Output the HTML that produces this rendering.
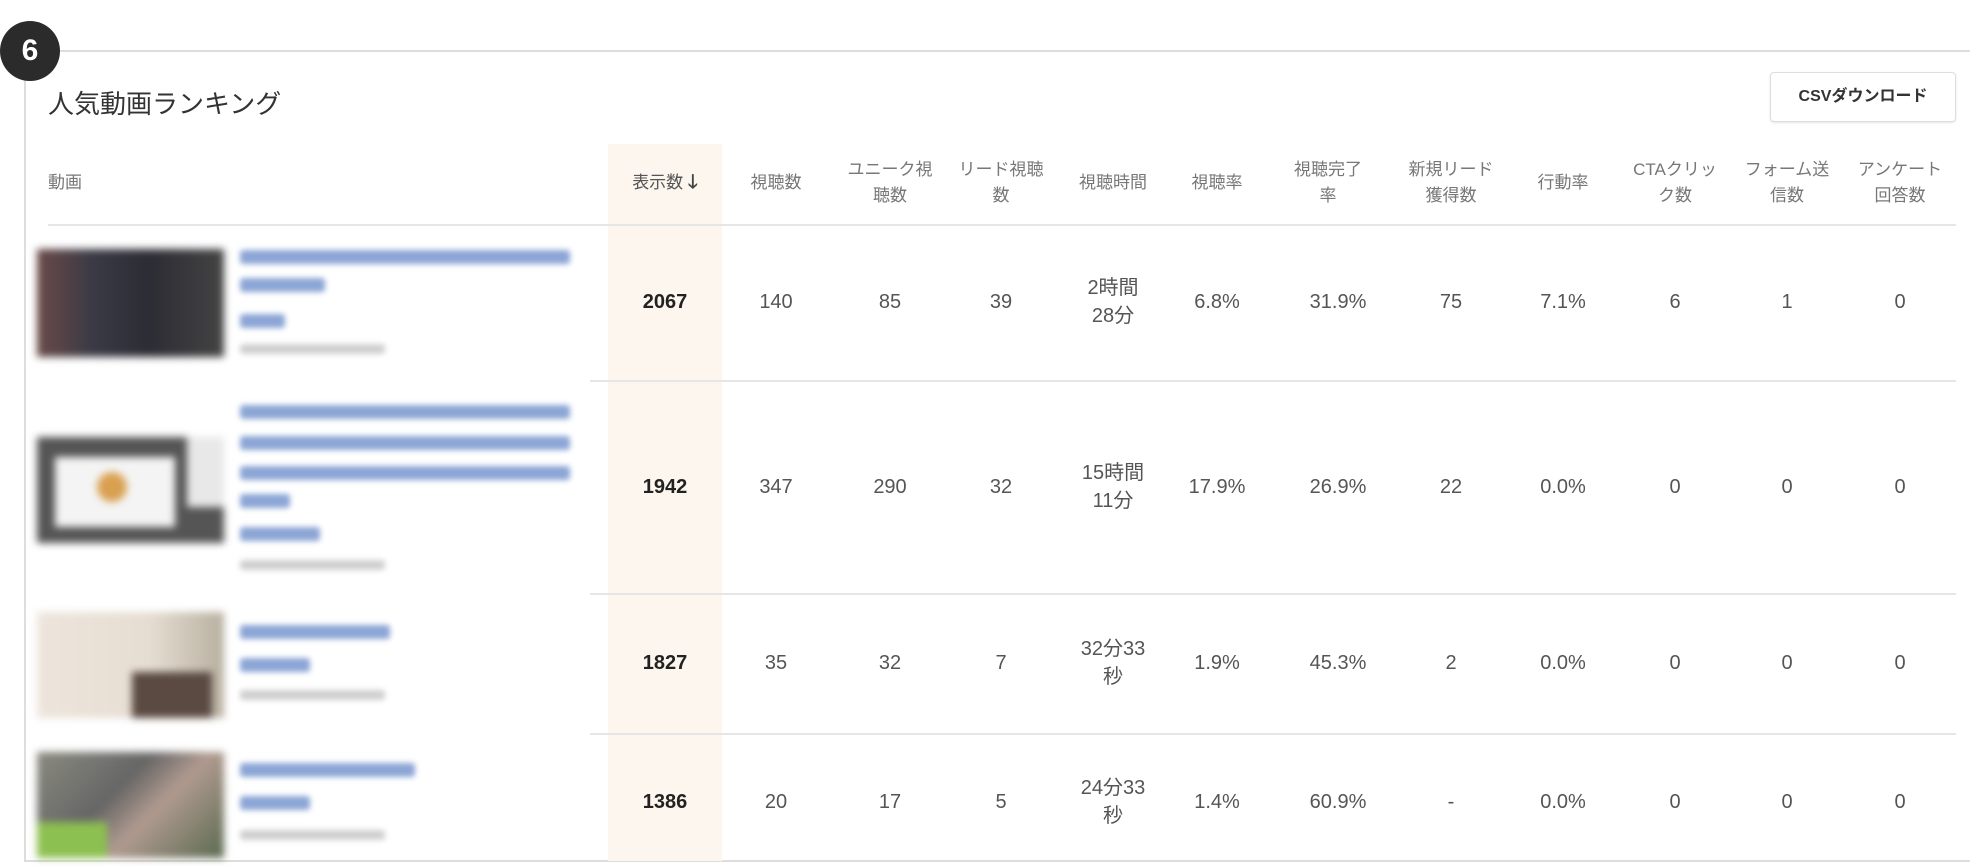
<!DOCTYPE html>
<html><head><meta charset="utf-8"><style>
*{margin:0;padding:0;box-sizing:border-box}
body{width:1970px;height:866px;background:#fff;position:relative;overflow:hidden;font-family:"Liberation Sans","Noto Sans CJK JP",sans-serif;color:#444}
.a{position:absolute}
.c{position:absolute;text-align:center;transform:translateX(-50%);white-space:nowrap}
.h{font-size:17px;color:#777;line-height:26px}
.v{font-size:20px;color:#555;line-height:28px}
.blur{filter:blur(4px)}
.ln{position:absolute;height:2px;background:#e6e6e6}
.bl{position:absolute;background:#5b7fc4;height:14px;border-radius:3px;filter:blur(3px);opacity:.7}
.gr{position:absolute;background:#bbb;height:10px;border-radius:3px;filter:blur(3px);opacity:.7}
</style></head><body>
<div class="a" style="left:25px;top:50px;width:1945px;height:2px;background:#ddd"></div>
<div class="a" style="left:24px;top:50px;width:2px;height:812px;background:#ddd"></div>
<div class="a" style="left:24px;top:860px;width:1946px;height:2px;background:#ddd"></div>
<div class="a" style="left:0;top:21px;width:60px;height:60px;border-radius:50%;background:#2b2b2b;color:#fff;font-weight:bold;font-size:30px;line-height:60px;text-align:center">6</div>
<div class="a" style="left:48px;top:84px;font-size:26px;color:#333">人気動画ランキング</div>
<div class="a" style="left:1770px;top:72px;width:186px;height:50px;border:1px solid #ddd;border-radius:4px;box-shadow:0 1px 2px rgba(0,0,0,.1);font-size:16px;font-weight:bold;color:#333;text-align:center;line-height:48px">CSVダウンロード</div>
<div class="a" style="left:608px;top:144px;width:114px;height:717px;background:#fcf6ee"></div>
<div class="ln" style="left:48px;top:224px;width:1908px"></div>
<div class="ln" style="left:590px;top:380px;width:1366px"></div>
<div class="ln" style="left:590px;top:593px;width:1366px"></div>
<div class="ln" style="left:590px;top:733px;width:1366px"></div>
<div class="a h" style="left:48px;top:170px">動画</div>
<div class="c h" style="left:665px;top:170px;color:#555">表示数 <b style="color:#444;font-size:19px">🡓</b></div>
<div class="c h" style="left:776px;top:170px">視聴数</div>
<div class="c h" style="left:890px;top:157px">ユニーク視<br>聴数</div>
<div class="c h" style="left:1001px;top:157px">リード視聴<br>数</div>
<div class="c h" style="left:1113px;top:170px">視聴時間</div>
<div class="c h" style="left:1217px;top:170px">視聴率</div>
<div class="c h" style="left:1328px;top:157px">視聴完了<br>率</div>
<div class="c h" style="left:1451px;top:157px">新規リード<br>獲得数</div>
<div class="c h" style="left:1563px;top:170px">行動率</div>
<div class="c h" style="left:1675px;top:157px">CTAクリッ<br>ク数</div>
<div class="c h" style="left:1787px;top:157px">フォーム送<br>信数</div>
<div class="c h" style="left:1900px;top:157px">アンケート<br>回答数</div>

<div class="a blur" style="left:37px;top:249px;width:187px;height:108px;background:linear-gradient(90deg,#6a4a48,#3a3a45 30%,#2c2c34 60%,#444 100%)"></div>
<div class="a blur" style="left:37px;top:437px;width:187px;height:106px;background:#555"><div class="a" style="left:18px;top:20px;width:120px;height:70px;background:#f4f4f4"></div><div class="a" style="left:60px;top:35px;width:30px;height:30px;border-radius:50%;background:#d9a050"></div><div class="a" style="left:150px;top:0;width:37px;height:70px;background:#e8e8e8"></div></div>
<div class="a blur" style="left:37px;top:612px;width:187px;height:106px;background:linear-gradient(90deg,#ede5dc,#e6ddd2 60%,#b8b0a0)"><div class="a" style="left:95px;top:60px;width:80px;height:46px;background:#5a4a42"></div></div>
<div class="a blur" style="left:37px;top:752px;width:187px;height:106px;background:linear-gradient(135deg,#8a8a80,#666 40%,#b09a90 60%,#5a6a50)"><div class="a" style="left:0;top:70px;width:70px;height:36px;background:#8cc050"></div></div>
<div class="bl" style="left:240px;top:250px;width:330px"></div><div class="bl" style="left:240px;top:278px;width:85px"></div><div class="bl" style="left:240px;top:314px;width:45px"></div><div class="gr" style="left:240px;top:344px;width:145px"></div>
<div class="bl" style="left:240px;top:405px;width:330px"></div><div class="bl" style="left:240px;top:436px;width:330px"></div><div class="bl" style="left:240px;top:466px;width:330px"></div><div class="bl" style="left:240px;top:494px;width:50px"></div><div class="bl" style="left:240px;top:527px;width:80px"></div><div class="gr" style="left:240px;top:560px;width:145px"></div>
<div class="bl" style="left:240px;top:625px;width:150px"></div><div class="bl" style="left:240px;top:658px;width:70px"></div><div class="gr" style="left:240px;top:690px;width:145px"></div>
<div class="bl" style="left:240px;top:763px;width:175px"></div><div class="bl" style="left:240px;top:796px;width:70px"></div><div class="gr" style="left:240px;top:830px;width:145px"></div>

<div class="c v" style="left:665px;top:288px;font-weight:bold;color:#222">2067</div>
<div class="c v" style="left:776px;top:288px">140</div><div class="c v" style="left:890px;top:288px">85</div><div class="c v" style="left:1001px;top:288px">39</div>
<div class="c v" style="left:1113px;top:274px">2時間<br>28分</div>
<div class="c v" style="left:1217px;top:288px">6.8%</div><div class="c v" style="left:1338px;top:288px">31.9%</div><div class="c v" style="left:1451px;top:288px">75</div><div class="c v" style="left:1563px;top:288px">7.1%</div><div class="c v" style="left:1675px;top:288px">6</div><div class="c v" style="left:1787px;top:288px">1</div><div class="c v" style="left:1900px;top:288px">0</div>

<div class="c v" style="left:665px;top:473px;font-weight:bold;color:#222">1942</div>
<div class="c v" style="left:776px;top:473px">347</div><div class="c v" style="left:890px;top:473px">290</div><div class="c v" style="left:1001px;top:473px">32</div>
<div class="c v" style="left:1113px;top:459px">15時間<br>11分</div>
<div class="c v" style="left:1217px;top:473px">17.9%</div><div class="c v" style="left:1338px;top:473px">26.9%</div><div class="c v" style="left:1451px;top:473px">22</div><div class="c v" style="left:1563px;top:473px">0.0%</div><div class="c v" style="left:1675px;top:473px">0</div><div class="c v" style="left:1787px;top:473px">0</div><div class="c v" style="left:1900px;top:473px">0</div>

<div class="c v" style="left:665px;top:649px;font-weight:bold;color:#222">1827</div>
<div class="c v" style="left:776px;top:649px">35</div><div class="c v" style="left:890px;top:649px">32</div><div class="c v" style="left:1001px;top:649px">7</div>
<div class="c v" style="left:1113px;top:635px">32分33<br>秒</div>
<div class="c v" style="left:1217px;top:649px">1.9%</div><div class="c v" style="left:1338px;top:649px">45.3%</div><div class="c v" style="left:1451px;top:649px">2</div><div class="c v" style="left:1563px;top:649px">0.0%</div><div class="c v" style="left:1675px;top:649px">0</div><div class="c v" style="left:1787px;top:649px">0</div><div class="c v" style="left:1900px;top:649px">0</div>

<div class="c v" style="left:665px;top:788px;font-weight:bold;color:#222">1386</div>
<div class="c v" style="left:776px;top:788px">20</div><div class="c v" style="left:890px;top:788px">17</div><div class="c v" style="left:1001px;top:788px">5</div>
<div class="c v" style="left:1113px;top:774px">24分33<br>秒</div>
<div class="c v" style="left:1217px;top:788px">1.4%</div><div class="c v" style="left:1338px;top:788px">60.9%</div><div class="c v" style="left:1451px;top:788px">-</div><div class="c v" style="left:1563px;top:788px">0.0%</div><div class="c v" style="left:1675px;top:788px">0</div><div class="c v" style="left:1787px;top:788px">0</div><div class="c v" style="left:1900px;top:788px">0</div>
</body></html>
